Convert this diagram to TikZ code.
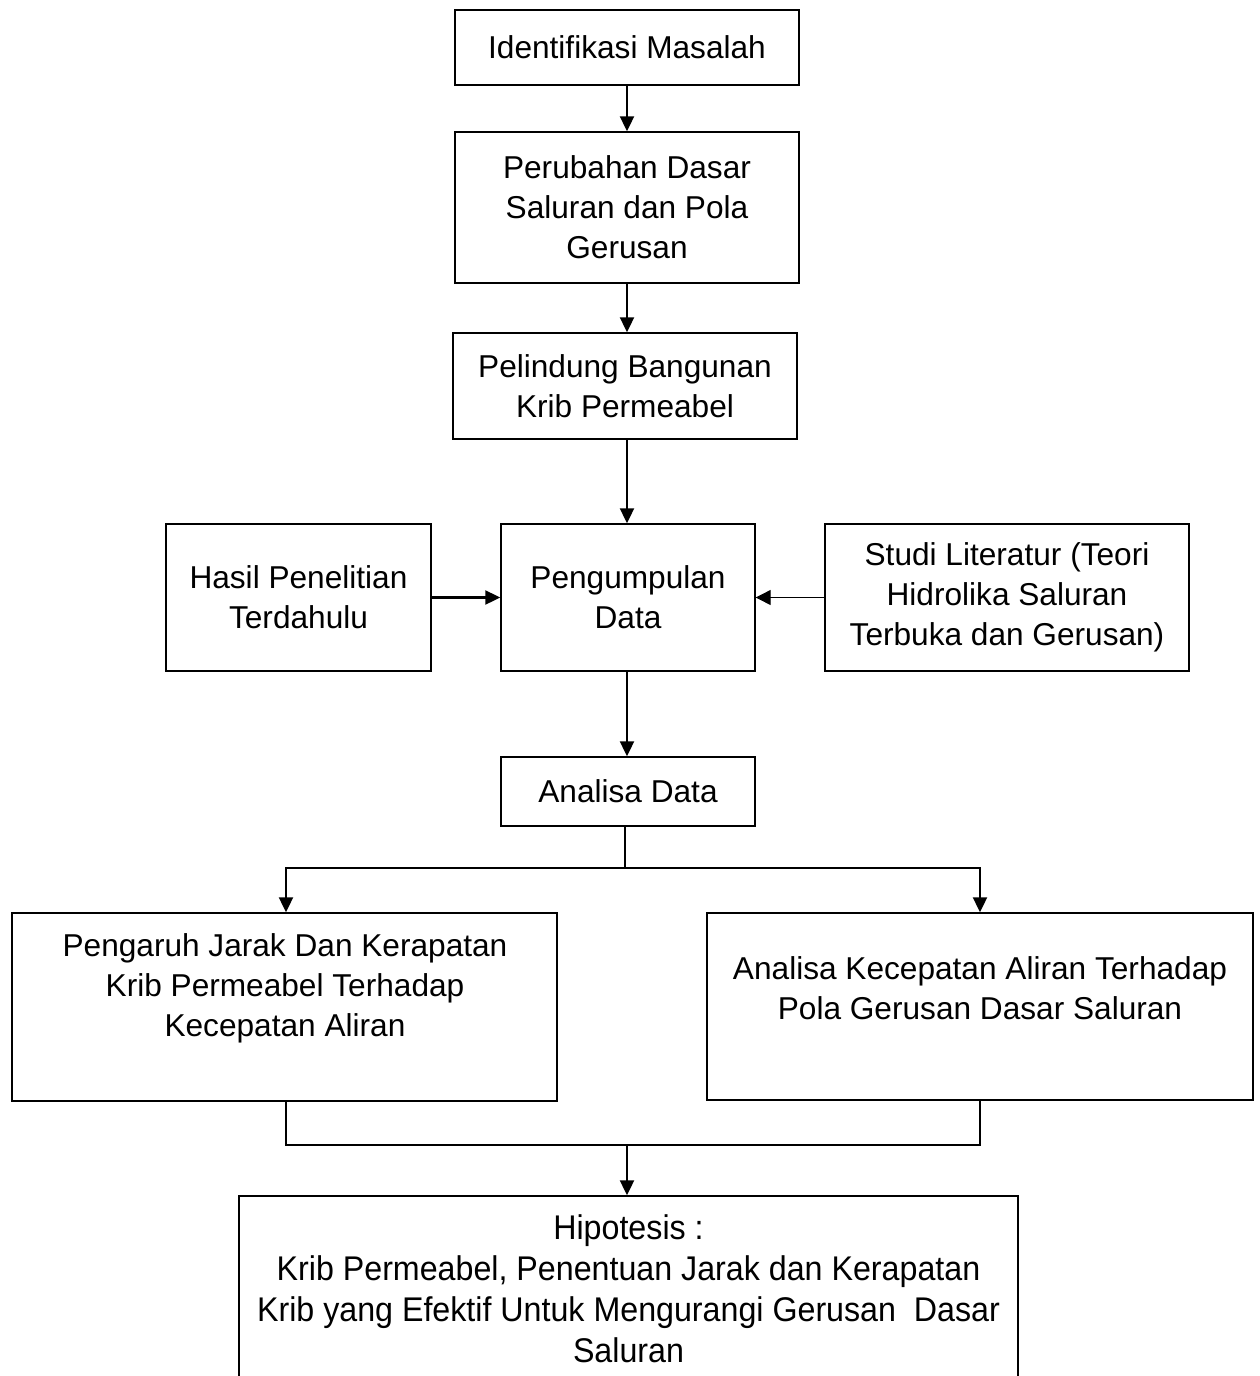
\documentclass[tikz,border=0pt]{standalone}
\usepackage{fontspec}
\setmainfont{Liberation Sans}
\newfontfamily\condfont[FakeStretch=0.94]{Liberation Sans}
\usetikzlibrary{fit,arrows.meta,calc}
\begin{document}
\begin{tikzpicture}[x=0.02cm,y=-0.02cm,
  box/.style={draw, line width=0.8pt, inner sep=0pt},
  txt/.style={align=center, font=\fontsize{18}{22.8}\selectfont, inner sep=0pt},
  conn/.style={line width=1.2pt},
  arr/.style={line width=1.2pt, -{Triangle[length=0.3cm,width=0.28cm]}}]
\useasboundingbox (0,0) rectangle (1259,1376);
\fill[white] (0,0) rectangle (1259,1376);

\node[box, fit={(455,10) (799,85)}] (n1) {};
\node[txt] (t1) at (n1.center) {Identifikasi Masalah};

\node[box, fit={(455,132) (799,283)}] (n2) {};
\node[txt] (t2) at (n2.center) {Perubahan Dasar\\Saluran dan Pola\\Gerusan};

\node[box, fit={(453,333) (797,439)}] (n3) {};
\node[txt] (t3) at (n3.center) {Pelindung Bangunan\\Krib Permeabel};

\node[box, fit={(501,524) (755,671)}] (n4) {};
\node[txt] (t4) at (n4.center) {Pengumpulan\\Data};

\node[box, fit={(166,524) (431,671)}] (n5) {};
\node[txt] (t5) at (n5.center) {Hasil Penelitian\\Terdahulu};

\node[box, fit={(825,524) (1189,671)}] (n6) {};
\node[txt] (t6) at (n6.center) {Studi Literatur (Teori\\Hidrolika Saluran\\Terbuka dan Gerusan)};

\node[box, fit={(501,757) (755,826)}] (n7) {};
\node[txt] (t7) at (n7.center) {Analisa Data};

\node[box, fit={(12,913) (557,1101)}] (n8) {};
\node[txt] (t8) at (285,988) {Pengaruh Jarak Dan Kerapatan\\Krib Permeabel Terhadap\\Kecepatan Aliran};

\node[box, fit={(707,913) (1253,1100)}] (n9) {};
\node[txt] (t9) at (980,988) {Analisa Kecepatan Aliran Terhadap\\Pola Gerusan Dasar Saluran};

\node[box, fit={(239,1196) (1018,1400)}] (n10) {};
\node[txt, font=\condfont\fontsize{19.5}{23.4}\selectfont] (t10) at (628.5,1289) {Hipotesis :\\Krib Permeabel, Penentuan Jarak dan Kerapatan\\Krib yang Efektif Untuk Mengurangi Gerusan~ Dasar\\Saluran};

\draw[arr] (n1.south -| 627,0) -- (n2.north -| 627,0);
\draw[arr] (n2.south -| 627,0) -- (n3.north -| 627,0);
\draw[arr] (n3.south -| 627,0) -- (n4.north -| 627,0);
\draw[arr] (n5.east) -- (n4.west);
\draw[arr, line width=0.7pt, -{Triangle[length=0.3cm,width=0.3cm]}] (n6.west) -- (n4.east);
\draw[arr] (n4.south -| 627,0) -- (n7.north -| 627,0);

\draw[conn] (n7.south -| 625,0) -- (625,868) coordinate (b1);
\draw[arr] (b1) -| (n8.north -| 286,0);
\draw[arr] (b1) -| (n9.north -| 980,0);

\draw[conn] (n8.south -| 286,0) |- (627,1145) coordinate (j1);
\draw[conn] (n9.south -| 980,0) |- (j1);
\draw[arr] (j1) -- (n10.north -| 627,0);
\end{tikzpicture}
\end{document}
